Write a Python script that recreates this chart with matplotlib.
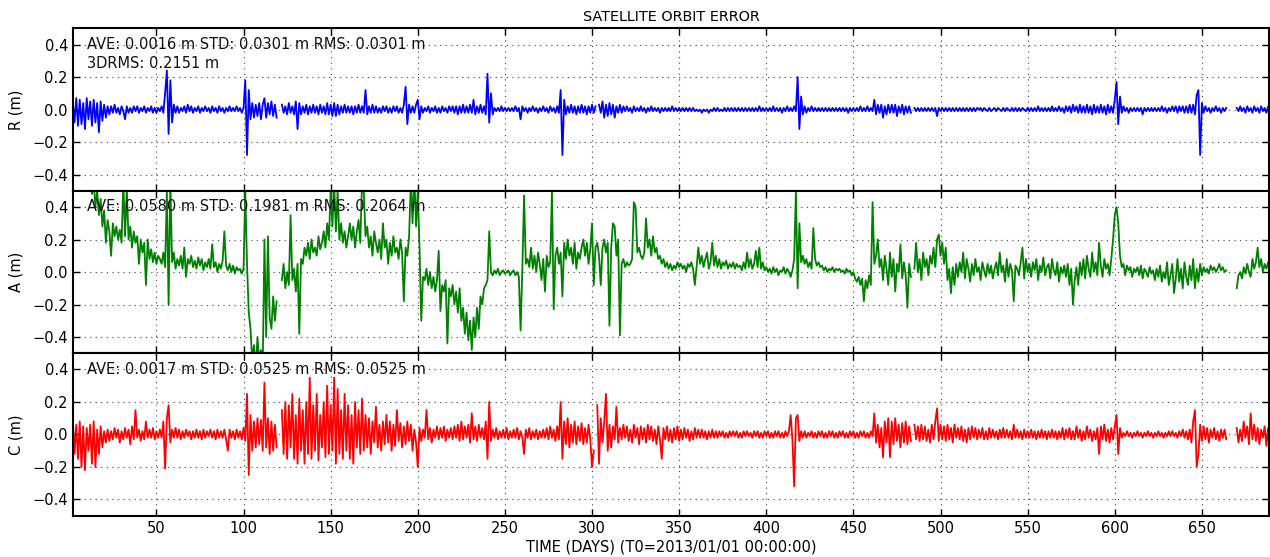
import numpy as np
import matplotlib
matplotlib.use("Agg")
import matplotlib.pyplot as plt

N = None
DAY0 = 2  # first sample day

# Radial error (cm), one value per day starting at DAY0
R_cm = [
    5, -8, 7, -10, 6, -9, 4, -12, 7, -6,
    5, -10, 6, -8, 4, -14, 5, -7, 3, -5,
    2, -3, 2, -2, 3, -2, 1, -3, 2, -1,
    -6, 2, -2, 1, -2, 2, -1, 2, -2, 1,
    -1, 2, -2, 1, -1, 2, -2, 1, -2, 1,
    -1, 2, -2, 10, 24, -15, 18, -8, 3, -2,
    2, -2, 1, -1, 2, -2, 3, -1, 2, -2,
    1, -1, 2, -2, 1, -1, 2, -1, 1, -2,
    2, -1, 1, -2, 2, -1, 1, -2, 1, -1,
    2, -1, 1, -1, 2, -1, 1, -2, 1, 18,
    -28, 12, -6, 4, -5, 3, -4, 4, -6, 3,
    7, -5, 4, -3, 5, -4, 3, -5, N, N,
    3, -2, 2, -3, 4, -2, 2, -3, 5, -12,
    4, -3, 2, -2, 3, -3, 2, -2, 3, -2,
    2, -3, 3, -2, 2, -3, 4, -3, 3, -4,
    4, -4, 3, -3, 2, -2, 3, -2, 2, -2,
    2, -3, 2, -2, 3, -2, 2, -2, 12, -3,
    2, -2, 3, -2, 2, -2, 1, -2, 2, -1,
    2, -2, 1, -2, 2, -1, 2, -2, 1, -2,
    3, 14, -9, 3, -2, 2, -2, 3, 6, -6,
    2, -2, 1, -1, 2, -2, 1, -1, 2, -2,
    1, -2, 2, -1, 1, -2, 2, -1, 2, -2,
    2, -3, 2, -2, 3, -2, 2, -2, 3, -2,
    6, -3, 2, -2, 3, -2, 2, -3, 22, -8,
    10, -3, 1, -1, 1, -1, 2, -1, 1, -1,
    1, -1, 1, -1, 2, -1, 1, -6, 2, -1,
    1, -2, 1, -1, 2, -1, 1, -2, 1, -1,
    2, -1, 1, -2, 2, -1, 1, -2, 2, -2,
    12, -28, 6, -3, 2, -2, 3, -2, 2, -3,
    2, -2, 3, -2, 2, -3, 2, -2, 3, -2,
    2, N, 3, -2, 5, -5, 3, -4, 4, -3,
    3, -5, 2, -2, 3, -2, 2, -1, 2, -1,
    1, -2, 2, -1, 1, -1, 2, -1, 1, -2,
    1, -1, 2, -1, 1, -1, 1, -2, 1, -1,
    1, -1, 1, -1, 2, -1, 1, -1, 1, -1,
    1, -1, 1, -1, 1, -1, 1, -1, 0, -1,
    0, -2, 0, -1, 0, -2, 0, -1, 1, -1,
    1, -1, 0, -1, 1, -1, 1, -1, 1, -1,
    1, -1, 1, -1, 1, -1, 1, -1, 1, -1,
    1, -1, 1, -1, 2, -1, 1, -1, 1, -1,
    1, -1, 2, -1, 1, -1, 1, -2, 1, -1,
    2, -1, 1, -1, 2, -1, 20, -12, 8, -3,
    2, -2, 1, -1, 2, -1, 1, -1, 1, -1,
    1, -1, 1, -1, 1, -1, 1, -1, 1, -1,
    1, -1, 1, -1, 1, -2, 1, -1, 1, -1,
    1, -1, 2, -1, 1, -1, 2, -1, 1, -1,
    6, -3, 3, -2, 3, -5, 2, -3, 3, -2,
    3, -2, 3, -4, 2, -2, 3, -3, 2, -2,
    2, -2, N, 1, -1, 1, -1, 1, -1, 1,
    -1, 1, -1, 1, -1, 1, -4, 1, -1, 1,
    -1, 1, -1, 1, -1, 1, -1, 1, -1, 1,
    -1, 1, -1, 1, -1, 1, -1, 1, -1, 1,
    0, 1, -1, 1, 0, -1, 1, -1, 0, 1,
    -1, 1, 0, -1, 1, -1, 1, 0, -1, 1,
    -1, 1, -1, 1, -1, 1, 0, -1, 1, -1,
    1, -1, 1, -1, 2, -1, 1, -1, 1, -1,
    1, -1, 2, -1, 1, -1, 2, -1, 1, -2,
    2, -1, 2, -2, 3, -1, 2, -2, 3, -2,
    2, -2, 3, -2, 2, -3, 3, -2, 2, -2,
    3, -2, 2, -3, 3, -2, 2, -2, 6, 17,
    -9, 8, -2, 2, -1, 1, -2, 1, -1, 1,
    -1, 1, -1, 1, -3, 1, -1, 1, -1, 1,
    -1, 1, -1, 1, -1, 2, -1, 1, -2, 1,
    -1, 2, -1, 2, -2, 2, -1, 2, -2, 2,
    -2, 3, -2, 3, -3, 9, 12, -28, 4, -2,
    2, -1, 1, -2, 1, -1, 2, -1, 1, -2,
    1, -1, 1, N, N, N, N, N, 1, -1,
    2, -1, 1, -2, 2, -1, 1, -2, 2, -1,
    1, -2, 2, -1, 1, -2, 2, -1, 1, -1,
]

# Along-track error (cm)
A_cm = [
    60, 70, 65, 75, 60, 80, 70, 55, 65, 60,
    60, 48, 55, 40, 50, 35, 45, 28, 38, 18,
    32, 25, 10, 30, 22, 28, 20, 26, 18, 55,
    22, 52, 20, 28, 15, 25, 18, 22, 5, 20,
    12, 18, -8, 20, 8, 14, 6, 12, 5, 10,
    8, 5, 12, 3, 50, -20, 55, 6, 12, 2,
    8, 4, 10, 2, 15, -3, 8, 5, 10, 3,
    7, 2, 9, 4, 8, 1, 6, 3, 8, 2,
    17, 3, 6, 0, 5, 2, 7, 25, 4, 1,
    5, 0, 4, -1, 3, 1, 2, -1, 2, 50,
    5, -25, -35, -55, -45, -60, -40, -55, -48, -60,
    20, -40, 22, -28, -35, -15, -30, -18, N, N,
    -5, 5, -10, 0, -8, 35, -5, 2, -12, 5,
    -38, 8, 5, 15, 10, 18, 8, 20, 12, 15,
    10, 22, 14, 18, 25, 15, 30, 20, 50, 28,
    55, 25, 50, 20, 30, 18, 25, 15, 22, 30,
    20, 28, 15, 25, 32, 18, 55, 50, 22, 28,
    15, 22, 10, 25, 18, 12, 20, 8, 30, 15,
    20, 5, 18, 10, 22, 12, 15, 8, 20, 12,
    -18, 15, 10, 22, 55, 30, 60, 28, 50, 15,
    -30, -3, -5, 2, -8, 0, -10, -3, -12, -5,
    13, -24, -8, -12, -5, -44, -10, -15, -8, -20,
    -12, -25, -10, -30, -22, -38, -25, -42, -30, -48,
    -28, -40, -22, -35, -15, -20, -10, -8, -5, 25,
    0, -2, 1, -1, 2, -2, 0, 1, -1, 0,
    1, -2, 0, 1, -2, 0, -3, -36, 2, 47,
    5, 8, 3, 15, 2, 10, 0, 12, 5, -5,
    8, -12, 10, 3, 6, 50, -23, 10, 15, 5,
    12, -15, 18, 8, 20, 10, 15, 5, 18, 2,
    12, 8, 15, 20, 10, 18, 5, 14, 30, -8,
    15, 18, 10, -8, 15, 20, 12, 18, -33, 15,
    30, 28, 10, 20, -39, 5, 8, 3, 6, 4,
    5, 8, 43, 40, 12, 15, 10, 8, 12, 33,
    15, 20, 10, 22, 12, 15, 8, 10, 5, 8,
    3, 6, 2, 5, 1, 4, 2, 6, 3, 5,
    2, 4, 0, 5, 3, 6, 2, -8, 3, 15,
    5, 10, 3, 8, 12, 2, 6, 18, 4, 10,
    3, 8, 2, 6, 4, 7, 2, 5, 3, 6,
    2, 5, 3, 4, 1, 6, 2, 12, 3, 8,
    2, 5, 13, 3, 15, 2, 6, 1, 3, 0,
    2, -1, 3, 0, 2, -2, 1, 0, 3, -1,
    2, 0, -3, 1, 8, 50, -10, 30, 6, 10,
    5, 8, 3, 6, 2, 27, 8, 4, 6, 3,
    4, 1, 3, 0, 2, 1, 3, 0, 2, 1,
    2, 0, 1, -1, 2, 0, 1, -2, 0, -4,
    -6, -3, -8, -4, -18, -5, -10, -2, -8, 43,
    5, 10, 20, 3, 8, -5, 10, 2, -8, 12,
    -3, 8, -12, 5, 0, 17, -4, 6, -2, -22,
    5, -3, N, 2, 18, 0, 8, -5, 12, 3,
    8, -2, 10, 5, 15, 3, 20, 23, 10, 18,
    5, 15, -5, 2, -13, 3, -8, 5, -3, 6,
    0, 12, -4, 8, 2, -6, 5, -2, 8, 0,
    3, -5, 6, 1, -3, 5, -1, 4, -4, 2,
    6, -2, 12, 0, 4, -6, 8, -3, 5, 1,
    -18, 4, 2, -2, 6, 15, -4, 8, 0, 5,
    -3, 6, 1, 8, -5, 4, 0, 9, -2, 3,
    5, -4, 8, 1, -2, 6, -6, 3, -1, 4,
    -3, 5, -8, 2, -20, -5, 3, -8, 6, -2,
    8, -4, 10, 2, -3, 12, 0, 6, -2, 18,
    4, -3, 8, 2, 5, -2, 8, 20, 35, 40,
    30, 10, 3, 5, -2, 4, 1, 3, -3, 2,
    0, 3, -2, 4, -4, 2, 0, -3, 3, -1,
    1, -5, 2, -3, 4, -6, 0, -4, 6, -8,
    -2, 5, -13, -4, 8, -6, 2, -10, 6, -3,
    -8, 4, -5, 8, -10, 2, -6, 5, -2, 3,
    0, 2, -1, 4, 1, 3, 0, 2, 5, 1,
    3, 0, 1, N, N, N, N, N, -10, -2,
    0, -4, 3, -1, 5, 0, -3, 8, 2, 6,
    15, 3, 8, 0, 5, 2, 6, 1, 4, 3,
]

# Cross-track error (cm)
C_cm = [
    10, -12, 6, -15, 8, -20, 5, -22, 4, -10,
    6, -18, 8, -20, 3, -12, 5, -8, 2, -5,
    3, -4, 2, -3, 4, -2, 3, -5, 2, -3,
    4, -2, 3, -6, 5, -3, 15, -2, 3, -4,
    2, -3, 8, -2, 3, -2, 4, -3, 2, -2,
    3, -2, 8, -21, 10, 18, -5, 3, -2, 4,
    -2, 3, -3, 2, -2, 3, -1, 2, -3, 2,
    -2, 3, -2, 2, -3, 3, -2, 2, -1, 3,
    -2, 2, -3, 3, -2, 2, -2, 3, -3, -10,
    3, -2, 2, -3, 3, -2, 2, -3, 4, -4,
    25, -25, 12, -10, 8, -8, 10, -6, 9, -10,
    32, -8, 10, -12, 8, -10, 6, -8, N, N,
    15, -12, 20, -15, 18, -8, 25, -15, 12, -18,
    22, -10, 15, -18, 20, -12, 35, -15, 18, -10,
    25, -16, 12, -8, 20, -14, 30, -12, 18, -10,
    35, -18, 28, -12, 15, -15, 25, -10, 18, -15,
    12, -18, 20, -8, 15, -12, 22, -10, 12, -8,
    10, -12, 8, -5, 17, -8, 6, -10, 8, -6,
    12, -5, 8, -10, 6, -7, 15, -4, 7, -8,
    5, -6, 8, -4, 6, -10, 3, -5, -20, 4,
    -4, 3, -2, 15, -3, 4, -5, 3, -2, 5,
    -3, 4, -2, 5, -4, 3, -2, 4, -3, 5,
    -2, 6, -4, 8, -3, 5, -2, 6, -5, 13,
    -3, 5, -4, 6, -2, 4, -3, 8, -15, 20,
    -4, 3, -2, 4, -3, 2, -2, 3, -2, 4,
    -3, 2, -2, 3, -2, 4, -3, 2, -2, -12,
    3, -2, 4, -3, 2, -2, 3, -3, 2, -2,
    3, -2, 4, -3, 5, -2, 3, -4, 5, -3,
    20, -15, 8, -6, 10, -8, 6, -5, 8, -6,
    5, -4, 7, -6, 4, -5, 6, -3, -20, -10,
    N, 18, -18, 10, -5, 8, 25, -10, 6, -8,
    5, -3, 17, -5, 4, -3, 6, -2, 5, -4,
    3, -5, 6, -2, 4, -6, 5, -3, 4, -5,
    6, -3, 5, -4, 3, -6, 5, -3, -15, 4,
    -3, 5, -4, 3, -5, 4, -3, 5, -4, 3,
    -3, 4, -2, 3, -4, 2, -3, 4, -2, 3,
    -2, 3, -2, 2, -3, 2, -2, 3, -2, 2,
    -2, 2, -1, 2, -2, 1, -2, 2, -1, 2,
    -1, 2, -2, 1, -2, 2, -1, 2, -1, 1,
    -2, 2, -1, 2, -2, 1, -2, 2, -1, 2,
    -2, 1, -2, 2, -1, 2, -2, 1, -2, 2,
    -1, 2, 12, -3, -32, 10, 12, -4, 2, -2,
    2, -2, 1, -1, 2, -2, 1, -2, 2, -1,
    2, -2, 1, -2, 2, -1, 2, -2, 1, -2,
    2, -1, 2, -2, 1, -2, 2, -1, 2, -2,
    1, -2, 2, -1, 2, -2, 1, -2, 2, -1,
    13, -5, 6, -8, 4, -14, 8, -5, 10, -14,
    8, -6, 10, -4, 6, -8, 7, -5, 8, -6,
    5, -4, N, 6, -3, 5, -4, 6, -3, 5,
    -4, 3, -5, 6, -3, 8, 16, -4, 6, -3,
    5, -4, 6, -3, 4, -5, 6, -2, 4, -3,
    5, -4, 3, -5, 4, -3, 5, -2, 4, -3,
    3, -2, 4, -3, 2, -3, 4, -2, 3, -2,
    2, -3, 3, -2, 4, -2, 3, -2, 2, -3,
    6, -2, 3, -2, 2, -3, 3, -2, 2, -2,
    3, -2, 2, -3, 2, -2, 3, -2, 2, -3,
    2, -2, 3, -2, 2, -3, 2, -2, 4, -3,
    3, -2, 4, -3, 2, -3, 5, -2, 3, -4,
    2, -3, 5, -2, 3, -4, 2, -3, 4, -12,
    5, -3, 6, -4, 3, -5, 4, -3, 5, 12,
    -12, 4, -2, 1, -1, 2, -1, 1, -2, 1,
    -1, 2, -1, 1, -2, 1, -1, 2, -1, 1,
    -2, 1, -1, 2, -1, 1, -2, 1, -1, 2,
    -1, 2, -1, 1, -2, 2, -1, 3, -2, 2,
    -3, 3, -5, 8, 15, -20, -12, 6, -4, 5,
    -3, 4, -5, 3, -2, 4, -3, 2, -4, 3,
    -2, 3, -3, N, N, N, N, N, 4, -5,
    3, -4, 8, -2, 5, -6, 13, -3, 6, -4,
    4, -6, 3, -2, 5, -7, 4, -3, 6, -2,
]

labels = ["R (m)", "A (m)", "C (m)"]
colors = ["#0000ff", "#008000", "#ff0000"]
stats = [
    ["AVE: 0.0016 m STD: 0.0301 m RMS: 0.0301 m", "3DRMS: 0.2151 m"],
    ["AVE: 0.0580 m STD: 0.1981 m RMS: 0.2064 m"],
    ["AVE: 0.0017 m STD: 0.0525 m RMS: 0.0525 m"],
]
yticks = [-0.4, -0.2, 0.0, 0.2, 0.4]
xticks = list(range(50, 700, 50))
title = "SATELLITE ORBIT ERROR"
xlabel = "TIME (DAYS) (T0=2013/01/01 00:00:00)"

series = [np.array(s, dtype=float) / 100.0 for s in (R_cm, A_cm, C_cm)]

FS = 10.5
fig = plt.figure(figsize=(12.7, 5.57), dpi=100, facecolor="white")
left = 0.0573
width = 1.0 - left - 0.0008
h = 0.2917
bottom0 = 0.0741

axes = []
for i in range(3):
    b = bottom0 + (2 - i) * h
    ax = fig.add_axes([left, b, width, h])
    y = series[i]
    x = np.arange(DAY0, DAY0 + len(y))
    ax.plot(x, y, color=colors[i], lw=1.3)
    ax.set_xlim(2, 688.5)
    ax.set_ylim(-0.5, 0.5)
    ax.set_yticks(yticks)
    ax.set_xticks(xticks)
    ax.grid(True, color="0.25", linestyle=(0, (1, 4)), linewidth=0.8)
    ax.tick_params(direction="in", top=True, right=True, length=5, width=1,
                   labelsize=FS, colors="black")
    for sp in ax.spines.values():
        sp.set_linewidth(1.5)
    ax.set_ylabel(labels[i], fontsize=FS, labelpad=6)
    for k, line in enumerate(stats[i]):
        ax.text(0.012, 0.875 - k * 0.117, line, transform=ax.transAxes,
                fontsize=FS, va="baseline", ha="left", color="#111111")
    if i < 2:
        ax.tick_params(labelbottom=False)
    axes.append(ax)

axes[0].set_title(title, fontsize=10.4, pad=5)
axes[2].set_xlabel(xlabel, fontsize=FS, labelpad=3)

fig.savefig("out.png", dpi=100, facecolor="white")
